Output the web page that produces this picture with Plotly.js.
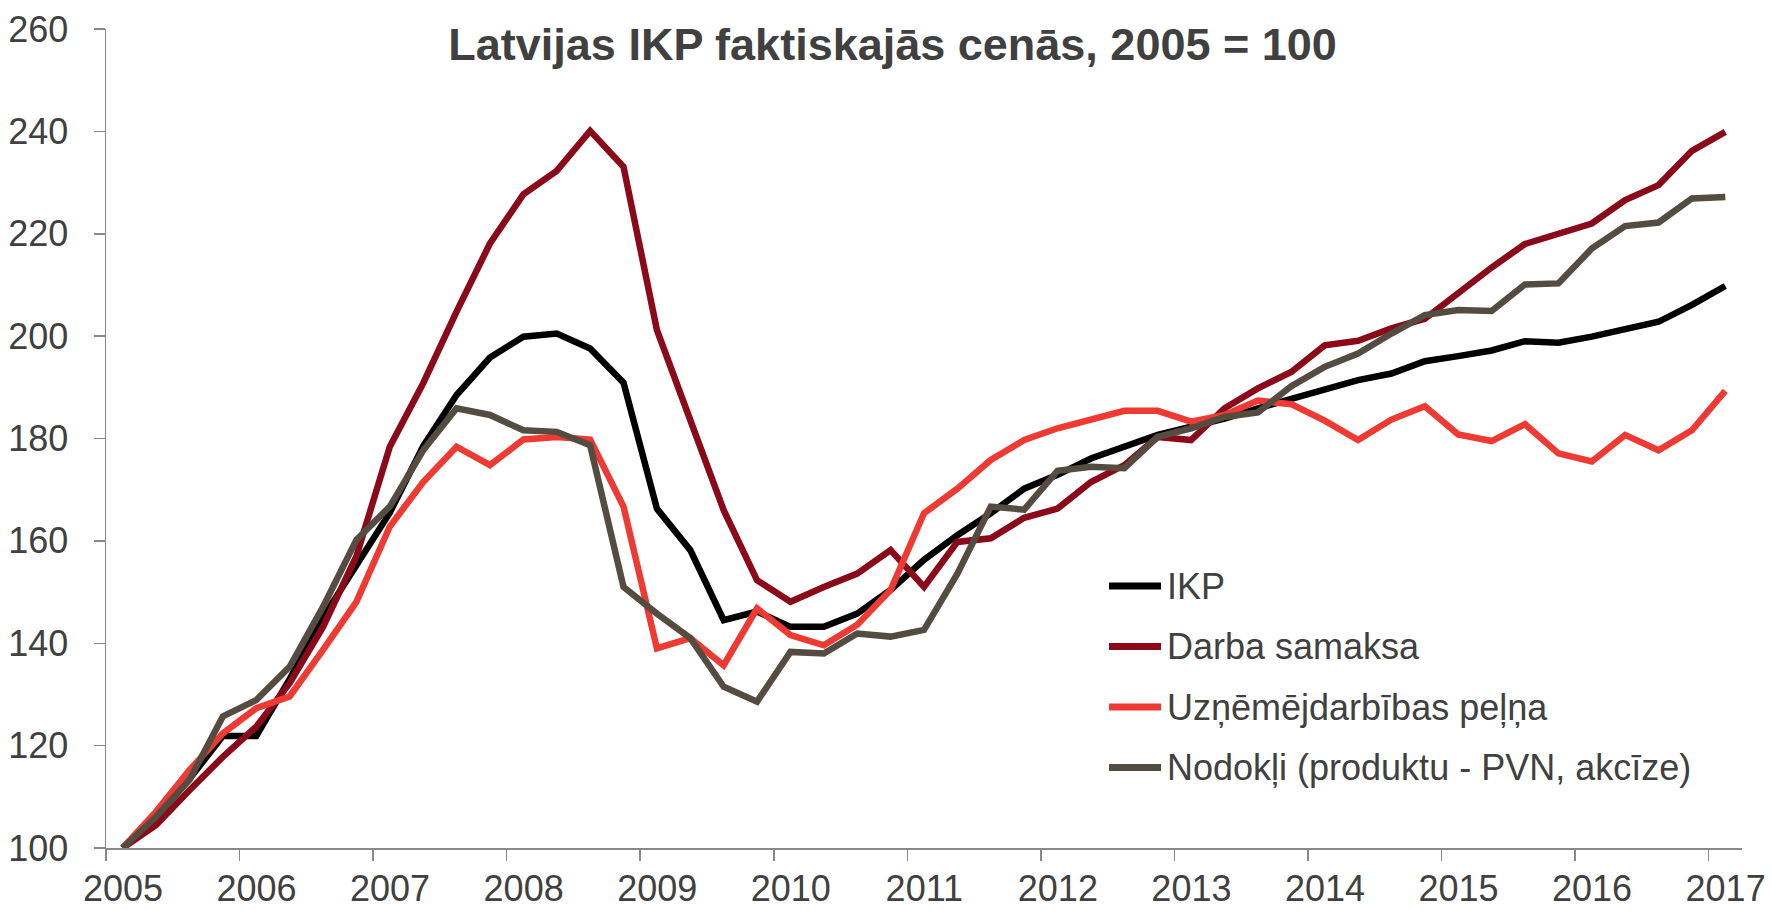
<!DOCTYPE html>
<html>
<head>
<meta charset="utf-8">
<script src="https://cdn.plot.ly/plotly-3.0.1.min.js"></script>
<style>
html,body{margin:0;padding:0;background:#ffffff;}
#chart{width:1771px;height:910px;}
</style>
</head>
<body>
<div id="chart"></div>
<script>
// ---- data (quarterly, 2005 Q1 = 100) ----
const years = ['2005','2006','2007','2008','2009','2010','2011','2012','2013','2014','2015','2016','2017'];
const quarterNames = ['Q1','Q2','Q3','Q4'];
const quarters = years.flatMap(y => quarterNames.map(q => y + ' ' + q)).slice(0, 49);

const seriesNames = ['IKP', 'Darba samaksa', 'Uzņēmējdarbības peļņa', 'Nodokļi (produktu - PVN, akcīze)'];

const ikp = [100,106,113.5,121.9,121.9,133,145,155.5,165.5,178.5,188.5,195.8,199.9,200.5,197.6,190.9,
  166.3,158.2,144.5,146.2,143.2,143.2,145.8,150.4,156.3,161.1,165.4,170.2,172.9,176.1,178.4,180.7,
  182.3,183.9,185.9,187.8,189.8,191.4,192.7,195.1,196.1,197.2,199.0,198.7,199.9,201.2,202.8,206.1,209.8];

const darbaSamaksa = [100,104.5,111.3,117.8,123.7,132.2,143.2,157,178.4,190.8,204.8,218.1,227.7,232.3,240.1,233.1,
  201.2,183.6,166.0,152.3,148.1,151.0,153.6,158.2,151.0,159.8,160.5,164.5,166.3,171.5,174.8,180.3,
  179.7,185.9,189.8,193.0,198.2,199.1,201.5,203.4,208.5,213.4,218.0,219.9,222.0,226.6,229.5,236.2,239.9];

const pelna = [100,107.1,115.2,122.4,127.3,129.6,138.7,148.1,162.8,171.5,178.4,174.8,179.8,180.3,179.8,166.7,
  139.0,141.0,135.7,146.8,141.6,139.6,143.6,150.4,165.4,170.2,175.8,179.7,182.0,183.6,185.4,185.4,
  183.3,184.6,187.4,186.7,183.5,179.7,183.7,186.3,180.8,179.5,182.8,177.1,175.5,180.7,177.7,181.6,189.3];

const nodokli = [100,106.1,113.3,125.7,128.9,135.4,147.1,160.2,166.7,177.7,185.9,184.6,181.6,181.3,178.7,151.0,
  145.8,141.0,131.5,128.6,138.3,138.0,141.9,141.3,142.6,153.6,166.7,166.1,173.7,174.5,174.2,180.3,
  182.0,184.2,185.1,190.2,194.0,196.6,200.5,204.1,205.1,204.9,210.1,210.3,217.1,221.5,222.2,226.9,227.2];

const seriesValues = [ikp, darbaSamaksa, pelna, nodokli];
const seriesColors = ['#000000', '#8a0a1a', '#ee3a33', '#554c41'];

const yTicks = [100,120,140,160,180,200,220,240,260];

// ---- chart ----
const W = 1771, H = 910;
const M = {l: 106, r: 29, t: 29, b: 62};
const plotW = W - M.l - M.r, plotH = H - M.t - M.b;
const pxX = px => (px - M.l) / plotW;          // page px -> paper x
const pxY = py => (H - M.b - py) / plotH;      // page px -> paper y

const textColor = '#404040';
const axisColor = '#898989';
const fontFamily = '"Liberation Sans", Arial, sans-serif';

// category slot centres on a numeric axis: slot i spans [i, i+1]
const xPos = quarters.map((q, i) => i + 0.5);
const yearTickVals = years.map((y, k) => k * 4);

const traces = seriesNames.map((name, s) => ({
  type: 'scatter',
  mode: 'lines',
  name: name,
  x: xPos,
  y: seriesValues[s],
  text: quarters,
  line: {color: seriesColors[s], width: 6.5},
  showlegend: false,
  hoverinfo: 'skip'
}));

// legend drawn as line samples + text, one row per series
const legendRowY = [586, 646.5, 707, 767.5];
const legendShapes = seriesNames.map((name, s) => ({
  type: 'line', xref: 'paper', yref: 'paper',
  x0: pxX(1109), x1: pxX(1161),
  y0: pxY(legendRowY[s]), y1: pxY(legendRowY[s]),
  line: {color: seriesColors[s], width: 7}
}));
const legendTexts = seriesNames.map((name, s) => ({
  xref: 'paper', yref: 'paper',
  x: pxX(1165), y: pxY(legendRowY[s]),
  xanchor: 'left', yanchor: 'middle',
  text: name, showarrow: false,
  font: {family: fontFamily, size: 36, color: textColor}
}));

const layout = {
  width: W,
  height: H,
  paper_bgcolor: '#ffffff',
  plot_bgcolor: '#ffffff',
  margin: {l: M.l, r: M.r, t: M.t, b: M.b, pad: 0},
  font: {family: fontFamily, color: textColor, size: 36},
  title: {
    text: '<b>Latvijas IKP faktiskajās cenās, 2005 = 100</b>',
    font: {family: fontFamily, size: 45, color: textColor},
    x: 0.504, xref: 'container', xanchor: 'center',
    y: 0.969, yref: 'container', yanchor: 'top'
  },
  xaxis: {
    type: 'linear',
    range: [0, 49],
    tickmode: 'array',
    tickvals: yearTickVals,
    ticktext: years,
    ticks: 'outside',
    ticklen: 11,
    tickwidth: 1.5,
    tickcolor: axisColor,
    ticklabelshift: 17,
    ticklabelstandoff: -3,
    showline: true,
    linecolor: axisColor,
    linewidth: 1.5,
    showgrid: false,
    zeroline: false,
    tickfont: {family: fontFamily, size: 36, color: textColor},
    fixedrange: true
  },
  yaxis: {
    range: [100, 260],
    tickmode: 'array',
    tickvals: yTicks,
    ticktext: yTicks.map(String),
    ticks: 'outside',
    ticklen: 11,
    tickwidth: 1.5,
    tickcolor: axisColor,
    ticklabelstandoff: 18,
    showline: true,
    linecolor: axisColor,
    linewidth: 1.5,
    showgrid: false,
    zeroline: false,
    tickfont: {family: fontFamily, size: 36, color: textColor},
    fixedrange: true
  },
  showlegend: false,
  shapes: legendShapes,
  annotations: legendTexts,
  hovermode: false
};

Plotly.newPlot('chart', traces, layout, {displayModeBar: false, staticPlot: true});
</script>
</body>
</html>
